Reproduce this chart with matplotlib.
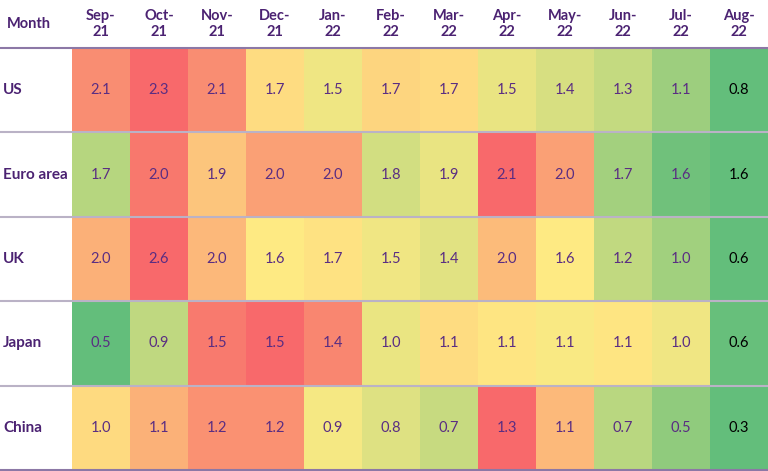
import numpy as np
import matplotlib
matplotlib.use("Agg")
import matplotlib.pyplot as plt
from matplotlib.colors import LinearSegmentedColormap, TwoSlopeNorm

plt.rcParams['font.family'] = ['Lato', 'DejaVu Sans']

months = ["Sep-\n21", "Oct-\n21", "Nov-\n21", "Dec-\n21", "Jan-\n22", "Feb-\n22",
          "Mar-\n22", "Apr-\n22", "May-\n22", "Jun-\n22", "Jul-\n22", "Aug-\n22"]
regions = ["US", "Euro area", "UK", "Japan", "China"]

# values (estimated to one more decimal from the cell shading; shown rounded to 0.1)
us = [2.1, 2.3, 2.1, 1.68, 1.52, 1.72, 1.69, 1.49, 1.4, 1.3, 1.1, 0.8]
euro = [1.74, 2.04, 1.944, 1.99, 1.99, 1.80, 1.85, 2.06, 1.99, 1.70, 1.59, 1.56]
uk = [2.04, 2.6, 1.98, 1.59, 1.66, 1.5, 1.4, 1.96, 1.59, 1.2, 1.0, 0.6]
japan = [0.54, 0.87, 1.46, 1.52, 1.42, 1.02, 1.14, 1.11, 1.07, 1.11, 1.04, 0.56]
china = [1.02, 1.12, 1.2, 1.2, 0.94, 0.84, 0.74, 1.3, 1.1, 0.68, 0.5, 0.3]

data = np.array([us, euro, uk, japan, china])
nrows, ncols = data.shape

cmap = LinearSegmentedColormap.from_list("ryg", ["#63BE7B", "#FFEB84", "#F8696B"])
rgba = np.zeros((nrows, ncols, 4))
for i in range(nrows):
    row = data[i]
    norm = TwoSlopeNorm(vmin=row.min(), vcenter=np.median(row), vmax=row.max())
    rgba[i] = cmap(norm(row))

W, H = 768, 471
fig = plt.figure(figsize=(W / 100, H / 100), dpi=100)
ax = fig.add_axes([0, 0, 1, 1])
label_w = 72 / 58.0
header_h = 48 / 84.6
ax.set_xlim(-label_w, ncols)
ax.set_ylim(nrows + 0.012, -header_h)
ax.axis('off')

ax.imshow(rgba, extent=(0, ncols, nrows, 0), aspect='auto', interpolation='nearest')

purple = '#4b2272'
cell_purple = '#5a2d82'

ax.text(-label_w + 0.12, -header_h / 2, "Month", ha='left', va='center',
        fontsize=10.5, fontweight='bold', color=purple)
for j, m in enumerate(months):
    ax.text(j + 0.5, -header_h / 2, m, ha='center', va='center', fontsize=10.5,
            fontweight='bold', color=purple, linespacing=1.2)
for i, r in enumerate(regions):
    ax.text(-label_w + 0.05, i + 0.5, r, ha='left', va='center', fontsize=11,
            fontweight='bold', color=purple)
    for j in range(ncols):
        col = 'black' if j == ncols - 1 else cell_purple
        ax.text(j + 0.5, i + 0.5, f"{data[i, j]:.1f}", ha='center', va='center',
                fontsize=10.5, color=col)

ax.axhline(0, color='#8c78a6', lw=1.5)
for k in range(1, nrows):
    ax.axhline(k, color='#bab2c6', lw=1.5)
ax.axhline(nrows, color='#8c78a6', lw=1.5)

fig.savefig("out.png", dpi=100)
